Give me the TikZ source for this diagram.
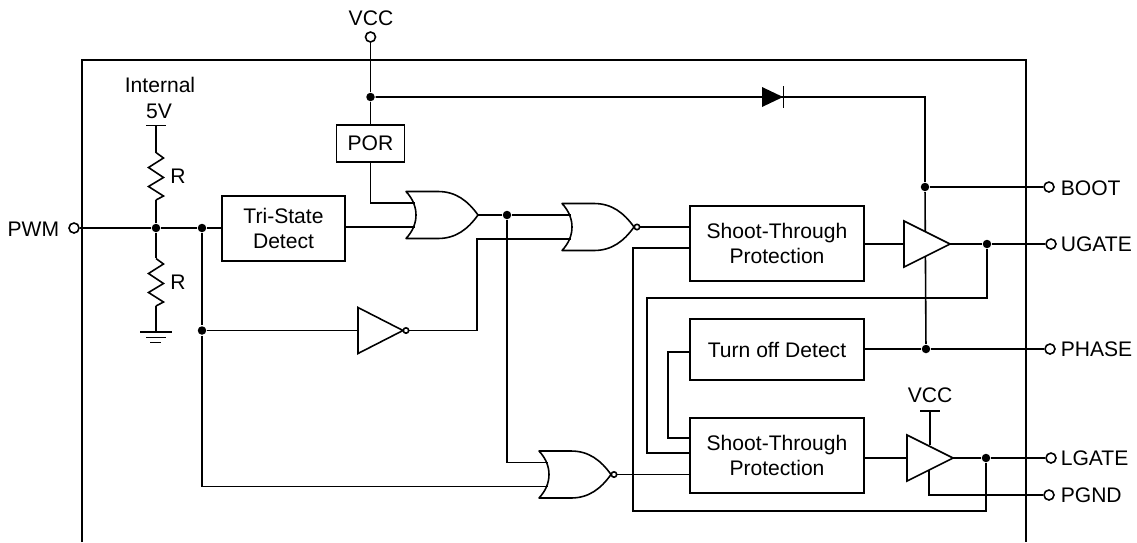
\documentclass[tikz,border=0pt]{standalone}
\usepackage{fontspec}
\setmainfont{Liberation Sans}
\newcommand{\orbody}{(0,-23.5) -- (32,-23.5) .. controls (50,-23.5) and (62,-14) .. (72,0) .. controls (62,14) and (50,23.5) .. (32,23.5) -- (0,23.5) .. controls (7,16) and (10,8) .. (10,0) .. controls (10,-8) and (7,-16) .. (0,-23.5) -- cycle}
\tikzset{
	block/.style={draw, align=center, inner sep=0pt},
	tag/.style={inner sep=0pt, align=center},
	pin/.style={circle, draw, fill=white, inner sep=0pt, minimum size=0.2cm},
	dot/.style={circle, fill=black, inner sep=0pt, minimum size=0.17cm},
	orgate/.pic={
		\draw[fill=white, line join=round] \orbody;
		\coordinate (-ina) at (9,-12);
		\coordinate (-inb) at (9,12);
		\coordinate (-out) at (72,0);
	},
	norgate/.pic={
		\draw[fill=white, line join=round] \orbody;
		\draw[fill=white] (75,0) circle (2.7);
		\coordinate (-ina) at (9,-12);
		\coordinate (-inb) at (9,12);
		\coordinate (-out) at (78,0);
	},
	buffer/.pic={
		\draw[fill=white] (0,-23) -- (46,0) -- (0,23) -- cycle;
		\coordinate (-in) at (0,0);
		\coordinate (-out) at (46,0);
	},
	inverter/.pic={
		\draw[fill=white] (0,-23) -- (45,0) -- (0,23) -- cycle;
		\draw[fill=white] (48,0) circle (2.7);
		\coordinate (-in) at (0,0);
		\coordinate (-out) at (51,0);
	},
	resistor/.pic={
		\draw (0,0) -- (7.5,5.5) -- (-7.5,15) -- (7.5,25) -- (-7.5,34) -- (7.5,43.5) -- (0,47.5);
		\coordinate (-top) at (0,0);
		\coordinate (-bot) at (0,47.5);
	},
	diode/.pic={
		\fill (0,-10) -- (21,0) -- (0,10) -- cycle;
		\draw (21.5,-11) -- (21.5,11);
	},
}
\begin{document}
\begin{tikzpicture}
		[x=0.02cm, y=-0.02cm, line width=0.9pt,
		every node/.style={font=\fontsize{12}{14.7}\selectfont}]
		\useasboundingbox (0,0) rectangle (1137,542);
		
		% chip outline, cut off at the bottom
		\draw (82,542) -- (82,60) -- (1026,60) -- (1026,542);
		
		% blocks
		\node[block, minimum width=1.36cm, minimum height=0.74cm] (por) at (370.5,143.5) {POR};
		\node[block, minimum width=2.46cm, minimum height=1.3cm] (tristate) at (283.5,228.5) {Tri-State\\Detect};
		\node[block, minimum width=3.48cm, minimum height=1.5cm] (shoothi) at (777,243.5) {Shoot-Through\\Protection};
		\node[block, minimum width=3.48cm, minimum height=1.22cm] (turnoff) at (777,349.5) {Turn off Detect};
		\node[block, minimum width=3.48cm, minimum height=1.5cm] (shootlo) at (777,455.5) {Shoot-Through\\Protection};
		
		% pins and their names
		\node[pin] (vccpin) at (370.5,37) {};
		\node[tag] (vcclabel) at (371,18) {VCC};
		\node[pin] (pwm) at (74,228) {};
		\node[tag, anchor=east] (pwmlabel) at (60,229) {PWM};
		\node[pin] (boot) at (1049,187) {};
		\node[tag, anchor=west] (bootlabel) at (1060,188) {BOOT};
		\node[pin] (ugate) at (1051,244) {};
		\node[tag, anchor=west] (ugatelabel) at (1060,244) {UGATE};
		\node[pin] (phase) at (1050,349) {};
		\node[tag, anchor=west] (phaselabel) at (1060,349) {PHASE};
		\node[pin] (lgate) at (1051,458) {};
		\node[tag, anchor=west] (lgatelabel) at (1060,458) {LGATE};
		\node[pin] (pgnd) at (1049,495) {};
		\node[tag, anchor=west] (pgndlabel) at (1060,495) {PGND};
		
		% inner labels
		\node[tag] (internal) at (160,85) {Internal};
		\node[tag] (fivev) at (159,111) {5V};
		\node[tag] (rupper) at (178,176) {R};
		\node[tag] (rlower) at (178,282) {R};
		\node[tag] (vccinner) at (930,395) {VCC};
		
		% junctions
		\node[dot] (porjoin) at (370.5,97) {};
		\node[dot] (pwmjoin) at (156,228) {};
		\node[dot] (splitjoin) at (202,228) {};
		\node[dot] (invjoin) at (202,330.5) {};
		\node[dot] (orjoin) at (507,215) {};
		\node[dot] (bootjoin) at (925,187) {};
		\node[dot] (phasejoin) at (926,349) {};
		\node[dot] (ugatejoin) at (987,244) {};
		\node[dot] (lgatejoin) at (986,458) {};
		
		\coordinate (diodecorner) at (925,97);
		\coordinate (fivetop) at (156,125.5);
		\coordinate (gndtop) at (156,332);
		\coordinate (vcctop) at (930,411);
		\coordinate (fbturn) at (987,298);
		\coordinate (fbleft) at (647,298);
		\coordinate (loopleft) at (668,352);
		\coordinate (rightfb) at (633,511);
		\coordinate (pgndturn) at (929,495);
		
		% wires (gates and drivers come later, they sit on top)
		\draw (vccpin) -- (porjoin) -- (por);
		\draw (porjoin) -- (diodecorner) -- (bootjoin) -- (phasejoin);
		\draw (bootjoin) -- (boot);
		\draw (turnoff.east |- phase) -- (phasejoin) -- (phase);
		\draw (pwm) -- (pwmjoin) -- (splitjoin) -- (splitjoin -| tristate.west);
		\draw (fivetop) -- +(0,27);
		\draw (pwmjoin) -- +(0,-28);
		\draw (pwmjoin) -- +(0,30);
		\draw (gndtop) -- +(0,-26);
		\draw (splitjoin) -- (invjoin);
		
		% little rails and ground
		\draw (146,125.5) -- (166,125.5);
		\draw (920,411) -- (940,411);
		\draw (140,332) -- (172,332);
		\draw (146,337.5) -- (166,337.5);
		\draw (150,342.5) -- (161,342.5);
		
		\pic at (156,152.5) {resistor};
		\pic at (156,258.5) {resistor};
		\pic at (762,97) {diode};
		
		% gates
		\pic (ora) at (406,215) {orgate};
		\pic (norhi) at (562,227) {norgate};
		\pic (norlo) at (539,474.5) {norgate};
		\coordinate (pwminv) at (358,330.5);
		
		\draw (por.south) |- (ora-ina);
		\draw (tristate.east |- ora-inb) -- (ora-inb);
		\draw (ora-out) -- (orjoin);
		\draw (orjoin) -- (norhi-ina);
		\draw (orjoin) |- (norlo-ina);
		\draw (invjoin) -- (pwminv);
		\draw (invjoin) |- (norlo-inb);
		\draw (norhi-out) -- (norhi-out -| shoothi.west);
		\draw (norlo-out) -- (norlo-out -| shootlo.west);
		
		\pic (inv) at (358,330.5) {inverter};
		\draw (inv-out) -| (477,239) -- (norhi-inb);
		
		% feedback around the shoot-through blocks
		\draw (ugatejoin) -- (fbturn) -- (fbleft) |- (shootlo.west |- 0,453);
		\draw (turnoff.west |- 0,352) -- (loopleft) |- (shootlo.west |- 0,438);
		\draw (shoothi.west |- 0,248) -- (633,248) -- (rightfb) -| (lgatejoin);
		
		% output drivers
		\draw (vcctop) -- (930,445);
		\draw (929,470) |- (pgnd);
		\pic (bufhi) at (904,244) {buffer};
		\pic (buflo) at (907,458) {buffer};
		\draw (shoothi.east |- bufhi-in) -- (bufhi-in);
		\draw (shootlo.east |- buflo-in) -- (buflo-in);
		\draw (bufhi-out) -- (ugatejoin) -- (ugate);
		\draw (buflo-out) -- (lgatejoin) -- (lgate);
		\end{tikzpicture}
\end{document}
